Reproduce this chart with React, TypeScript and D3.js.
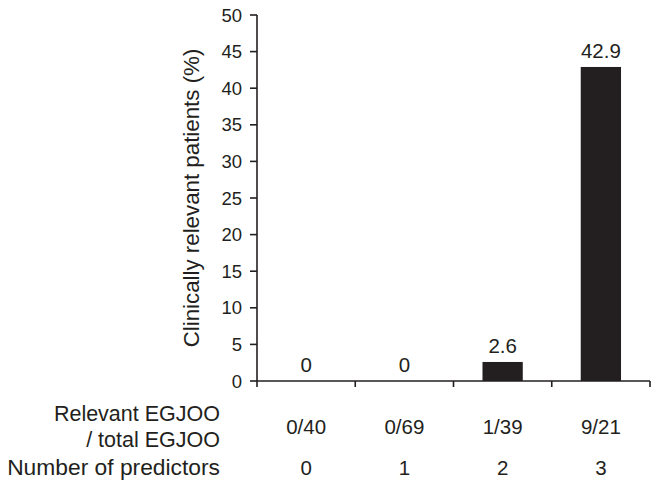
import React from "react";
import * as d3 from "d3";

const predictors = ["0", "1", "2", "3"];
const fractions = ["0/40", "0/69", "1/39", "9/21"];
const percents = [0, 0, 2.6, 42.9];
const valueLabels = ["0", "0", "2.6", "42.9"];
const yTicks = [0, 5, 10, 15, 20, 25, 30, 35, 40, 45, 50];

const W = 660;
const H = 489;
const ink = "#231f20";
const font = "'Liberation Sans', Arial, Helvetica, sans-serif";

export default function App() {
  const x = d3.scaleBand<string>().domain(predictors).range([257, 650]).padding(0);
  const y = d3.scaleLinear().domain([0, 50]).range([381, 15]);
  const barW = x.bandwidth() * 0.41;
  const boundaries = [...predictors.map((p) => x(p) as number), 650];

  return (
    <svg
      width={W}
      height={H}
      style={{ position: "absolute", left: 0, top: 0, background: "#fff" }}
      fontFamily={font}
      fill={ink}
    >
      {/* y axis */}
      <line x1={257} x2={257} y1={y(50)} y2={y(0)} stroke={ink} strokeWidth={1.6} />
      {yTicks.map((t) => (
        <g key={t}>
          <line x1={250} x2={257} y1={y(t)} y2={y(t)} stroke={ink} strokeWidth={1.6} />
          <text x={242} y={y(t)} dy="0.36em" textAnchor="end" fontSize={18.5}>
            {t}
          </text>
        </g>
      ))}
      <text
        transform={`translate(199, ${(y(0) + y(50)) / 2}) rotate(-90)`}
        textAnchor="middle"
        fontSize={22.3}
      >
        Clinically relevant patients (%)
      </text>

      {/* x axis */}
      <line x1={257} x2={650} y1={y(0)} y2={y(0)} stroke={ink} strokeWidth={1.6} />
      {boundaries.map((b, i) => (
        <line key={i} x1={b} x2={b} y1={y(0)} y2={y(0) + 6} stroke={ink} strokeWidth={1.6} />
      ))}

      {/* bars */}
      {predictors.map((p, i) => {
        const cx = (x(p) as number) + x.bandwidth() / 2;
        return (
          <g key={p}>
            <rect
              x={cx - barW / 2}
              width={barW}
              y={y(percents[i])}
              height={y(0) - y(percents[i])}
              fill={ink}
            />
            <text x={cx} y={y(percents[i]) - 9} textAnchor="middle" fontSize={20.5}>
              {valueLabels[i]}
            </text>
            <text x={cx} y={434} textAnchor="middle" fontSize={20.5}>
              {fractions[i]}
            </text>
            <text x={cx} y={475} textAnchor="middle" fontSize={20.5}>
              {p}
            </text>
          </g>
        );
      })}

      {/* row labels */}
      <text x={220} y={421} textAnchor="end" fontSize={21.5}>
        Relevant EGJOO
      </text>
      <text x={220} y={447} textAnchor="end" fontSize={21.5}>
        / total EGJOO
      </text>
      <text x={220} y={475} textAnchor="end" fontSize={22.8}>
        Number of predictors
      </text>
    </svg>
  );
}
